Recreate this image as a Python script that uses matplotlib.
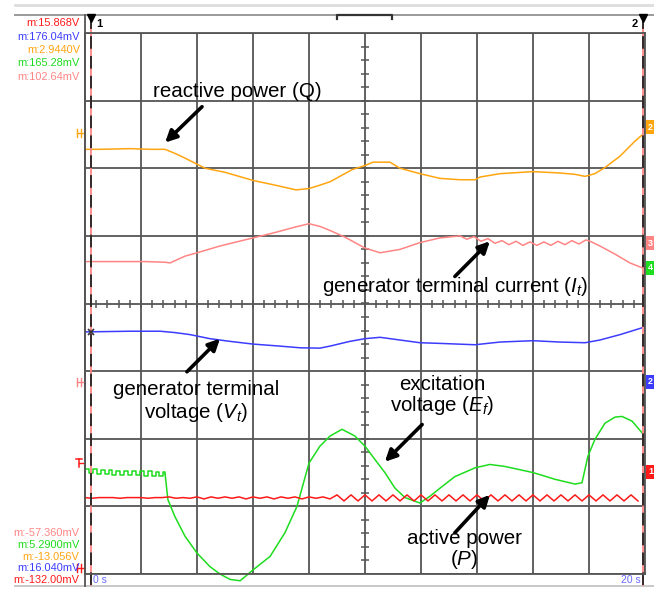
import numpy as np
import matplotlib.pyplot as plt

plt.rcParams['font.family'] = ['Liberation Sans', 'DejaVu Sans']
plt.rcParams['mathtext.fontset'] = 'custom'
plt.rcParams['mathtext.rm'] = 'Liberation Sans'
plt.rcParams['mathtext.it'] = 'Liberation Sans:italic'

# colores de los canales del osciloscopio
C_P = '#ff1a1a'
C_VT = '#3c3cff'
C_Q = '#ffa510'
C_EF = '#1edc1e'
C_IT = '#ff8585'
GRID = '#555555'

# tiempo en segundos (2 s/div), amplitud en divisiones
q_t = [0, 0.54, 1.61, 2.32, 2.86, 3.21, 3.57, 4.0, 4.29, 5.0, 6.0, 6.79, 7.54, 8.0, 8.39, 8.75,
       9.54, 10.0, 10.29, 10.89, 11.25, 11.96, 12.68, 13.39, 13.93, 14.11, 14.82, 16.0, 16.96,
       17.5, 17.86, 18.21, 18.57, 19.11, 19.64, 19.89]
q_v = [2.28, 2.28, 2.29, 2.28, 2.28, 2.22, 2.15, 2.06, 2.00, 1.94, 1.82, 1.75, 1.68, 1.70, 1.75,
       1.80, 1.98, 2.04, 2.09, 2.09, 2.00, 1.92, 1.85, 1.83, 1.83, 1.87, 1.92, 1.95, 1.93, 1.91,
       1.88, 1.92, 2.01, 2.18, 2.40, 2.49]

it_t = [0, 2.14, 2.86, 3.04, 3.57, 4.0, 4.82, 6.0, 6.79, 7.5, 8.0, 8.39, 8.75, 9.29, 10.0, 10.54,
        11.25, 11.96, 12.68, 13.39, 13.64, 13.89, 14.14, 14.39, 14.64, 14.89, 15.14, 15.39, 15.64,
        15.89, 16.14, 16.39, 16.64, 16.89, 17.14, 17.39, 17.64, 17.89, 18.04, 18.39, 18.93,
        19.46, 19.89]
it_v = [0.62, 0.62, 0.61, 0.60, 0.70, 0.75, 0.85, 0.97, 1.05, 1.13, 1.18, 1.14, 1.08, 0.98, 0.82,
        0.75, 0.80, 0.90, 0.97, 1.00, 0.95, 0.99, 0.92, 0.96, 0.89, 0.93, 0.87, 0.92, 0.86, 0.91,
        0.86, 0.91, 0.86, 0.92, 0.87, 0.93, 0.88, 0.94, 0.92, 0.85, 0.73, 0.60, 0.53]

vt_t = [0, 1.61, 2.68, 3.21, 3.75, 4.46, 5.18, 6.0, 6.96, 7.68, 8.39, 8.75, 9.46, 10.0, 10.54,
        11.25, 11.96, 12.68, 13.93, 14.82, 16.0, 16.96, 17.86, 18.39, 19.11, 19.89]
vt_v = [-0.42, -0.41, -0.41, -0.43, -0.46, -0.52, -0.56, -0.60, -0.63, -0.655, -0.66, -0.63,
        -0.56, -0.52, -0.50, -0.54, -0.58, -0.59, -0.61, -0.57, -0.55, -0.57, -0.58, -0.54,
        -0.46, -0.36]

# tension de excitacion: tramo inicial con rizado, luego la oscilacion
ef0_t = [0.0, 0.14, 0.28, 0.42, 0.56, 0.70, 0.84, 0.98, 1.12, 1.26, 1.40, 1.54, 1.68, 1.82,
         1.96, 2.10, 2.24, 2.38, 2.52, 2.66, 2.80, 2.86]
ef0_v = [-2.45, -2.51, -2.45, -2.52, -2.46, -2.52, -2.46, -2.53, -2.47, -2.53, -2.47, -2.54,
         -2.48, -2.54, -2.48, -2.55, -2.48, -2.55, -2.49, -2.55, -2.49, -2.52]
ef_t = [2.86, 2.96, 3.21, 3.57, 4.0, 4.46, 4.82, 5.18, 5.54,
        6.0, 6.61, 7.14, 7.57, 8.0, 8.39, 8.75, 9.18, 9.64, 10.0, 10.36, 10.71, 11.07, 11.43,
        11.96, 12.32, 12.68, 13.21, 13.93, 14.46, 15.0, 16.0, 16.79, 17.5, 17.75, 17.96, 18.21,
        18.57, 18.93, 19.18, 19.54, 19.89]
ef_v = [-2.52, -2.90, -3.15, -3.44, -3.69, -3.89, -4.00, -4.08, -4.10, -3.94, -3.74, -3.39,
        -3.00, -2.36, -2.11, -1.96, -1.86, -1.96, -2.11, -2.31, -2.50, -2.73, -2.87, -2.95,
        -2.85, -2.73, -2.56, -2.43, -2.38, -2.41, -2.50, -2.60, -2.67, -2.65, -2.26, -2.01,
        -1.77, -1.68, -1.67, -1.74, -1.91]

# potencia activa: muestras cada 0.25 s
p_v = [-2.87, -2.88, -2.87, -2.87, -2.87, -2.88, -2.87, -2.87, -2.87, -2.88, -2.87, -2.87,
       -2.86, -2.88, -2.87, -2.88, -2.86, -2.89, -2.86, -2.88, -2.86, -2.88, -2.86, -2.89,
       -2.86, -2.88, -2.86, -2.89, -2.86, -2.88, -2.86, -2.89, -2.86, -2.88, -2.86, -2.89,
       -2.83, -2.92, -2.83, -2.92, -2.83, -2.92, -2.83, -2.92, -2.83, -2.92, -2.83, -2.92,
       -2.83, -2.92, -2.83, -2.92, -2.83, -2.92, -2.83, -2.92, -2.83, -2.92, -2.83, -2.92,
       -2.83, -2.92, -2.83, -2.92, -2.83, -2.92, -2.83, -2.92, -2.83, -2.92, -2.83, -2.92,
       -2.83, -2.92, -2.83, -2.92, -2.83, -2.92, -2.83, -2.92]
p_t = np.linspace(0, 19.75, len(p_v))

cursor_t = [0.21, 19.93]
top_readout = [('m:15.868V', C_P), ('m:176.04mV', C_VT), ('m:2.9440V', C_Q),
               ('m:165.28mV', C_EF), ('m:102.64mV', C_IT)]
bottom_readout = [('m:-57.360mV', C_IT), ('m:5.2900mV', C_EF), ('m:-13.056V', C_Q),
                  ('m:16.040mV', C_VT), ('m:-132.00mV', C_P)]

W, H = 654, 589
fig = plt.figure(figsize=(W / 100, H / 100), dpi=100)

# capa de fondo en pixeles para el marco de la pantalla
bg = fig.add_axes([0, 0, 1, 1])
bg.set_xlim(0, W)
bg.set_ylim(H, 0)
bg.axis('off')
bg.plot([15, W], [5, 5], color='#dddddd', lw=2)
bg.plot([15, W], [15, 15], color='#9a9a9a', lw=1.4)
bg.plot([15, W], [586, 586], color='#c8c8c8', lw=1.4)
bg.plot([85, 85], [15, 586], color=GRID, lw=1.3)
bg.plot([337, 337, 392, 392], [18.5, 15, 15, 18.5], color='#333333', lw=1.6)

for i, (txt, col) in enumerate(top_readout):
    bg.text(80, 23 + 13.5 * i, txt, color=col, fontsize=7.9, ha='right', va='center')
for i, (txt, col) in enumerate(bottom_readout):
    bg.text(79.5, 533 + 11.8 * i, txt, color=col, fontsize=7.9, ha='right', va='center')

bg.text(93, 580, '0 s', color='#6a6aff', fontsize=7.5, ha='left', va='center')
bg.text(641, 580, '20 s', color='#6a6aff', fontsize=7.5, ha='right', va='center')

# marcadores de nivel a la izquierda (dibujados con trazos)
for y, col in [(133, C_Q), (382, C_IT), (568, C_P)]:
    bg.plot([77, 77], [y - 4, y + 4], color=col, lw=1)
    bg.plot([80.5, 80.5], [y - 4, y + 4], color=col, lw=1)
    bg.plot([77, 85], [y, y], color=col, lw=1)
bg.plot([76, 82], [459, 459], color=C_P, lw=1.1)
bg.plot([79, 79], [459, 467], color=C_P, lw=1.1)
bg.plot([79, 85], [463, 463], color=C_P, lw=1)

# etiquetas de canal a la derecha
for y, txt, col in [(127, '2', C_Q), (243, '3', C_IT), (268, '4', C_EF), (382, '2', C_VT),
                    (472, '1', C_P)]:
    bg.plot([645, 648], [y, y], color=col, lw=1)
    bg.text(648, y, txt, color='white', fontsize=6.5, fontweight='bold', ha='left', va='center',
            bbox=dict(boxstyle='square,pad=0.25', fc=col, ec='none'))

bg.plot(642, 383, marker='x', ms=5, mew=1.2, color='#333333')

# area de la reticula
ax = fig.add_axes([85 / W, (H - 574) / H, 560 / W, 541 / H])
ax.set_xlim(0, 20)
ax.set_ylim(-4, 4)
ax.set_xticks(np.arange(0, 21, 2))
ax.set_yticks(np.arange(-4, 5, 1))
ax.grid(True, color=GRID, lw=1.3)
ax.tick_params(length=0, labelbottom=False, labelleft=False)
for s in ax.spines.values():
    s.set_color(GRID)
    s.set_linewidth(1.3)

# marcas menores sobre los ejes centrales
ax.plot(np.arange(0.4, 20, 0.4), np.zeros(49), ls='none', marker='|', ms=5.5, mew=1.1,
        color=GRID)
ax.plot(np.full(39, 10.0), np.arange(-3.8, 3.9, 0.2), ls='none', marker='_', ms=5.5, mew=1.1,
        color=GRID)

ax.plot(q_t, q_v, color=C_Q, lw=1.1)
ax.plot(it_t, it_v, color=C_IT, lw=1.1)
ax.plot(vt_t, vt_v, color=C_VT, lw=1.1)
ax.plot(ef0_t, ef0_v, color=C_EF, lw=1.1, drawstyle='steps-post')
ax.plot(ef_t, ef_v, color=C_EF, lw=1.1, clip_on=False)
ax.plot(p_t, p_v, color=C_P, lw=1.1)

# cursores
for c in cursor_t:
    ax.plot([c, c], [-4.17, 4.27], color=C_IT, lw=1.3, clip_on=False)
    ax.plot([c, c], [-4.17, 4.27], color='#222222', lw=1.3, ls=(0, (7, 4)), clip_on=False)
    ax.plot(c, 4.22, marker='v', ms=6, color='black', clip_on=False)
ax.text(cursor_t[0] + 0.2, 4.14, '1', fontsize=8, fontweight='bold', va='center', ha='left')
ax.text(cursor_t[1] - 0.2, 4.14, '2', fontsize=8, fontweight='bold', va='center', ha='right')
ax.plot(cursor_t[0], vt_v[0], marker='x', ms=5, mew=1.2, color='#333333')

# anotaciones
arrow = dict(arrowstyle='-|>', color='black', lw=2.6, mutation_scale=17, shrinkA=0, shrinkB=0)
fs = 14.8
ax.annotate('', xy=(2.86, 2.38), xytext=(4.18, 2.91), arrowprops=arrow)
ax.text(5.45, 3.14, 'reactive power (Q)', fontsize=fs, ha='center', va='center')

ax.annotate('', xy=(14.46, 0.92), xytext=(13.21, 0.40), arrowprops=arrow)
ax.text(13.21, 0.25, 'generator terminal current ($I_t$)', fontsize=fs, ha='center',
        va='center')

ax.annotate('', xy=(4.82, -0.52), xytext=(3.64, -1.01), arrowprops=arrow)
ax.text(3.96, -1.46, 'generator terminal\nvoltage ($V_t$)', fontsize=fs, ha='center',
        va='center', linespacing=1.1)

ax.annotate('', xy=(10.71, -2.34), xytext=(12.04, -1.79), arrowprops=arrow)
ax.text(12.77, -1.37, 'excitation\nvoltage ($E_f$)', fontsize=fs, ha='center', va='center',
        linespacing=1.0)

ax.annotate('', xy=(14.46, -2.83), xytext=(13.21, -3.39), arrowprops=arrow)
ax.text(13.54, -3.65, 'active power\n($P$)', fontsize=fs, ha='center', va='center',
        linespacing=1.0)

fig.savefig('out.png', dpi=100)
